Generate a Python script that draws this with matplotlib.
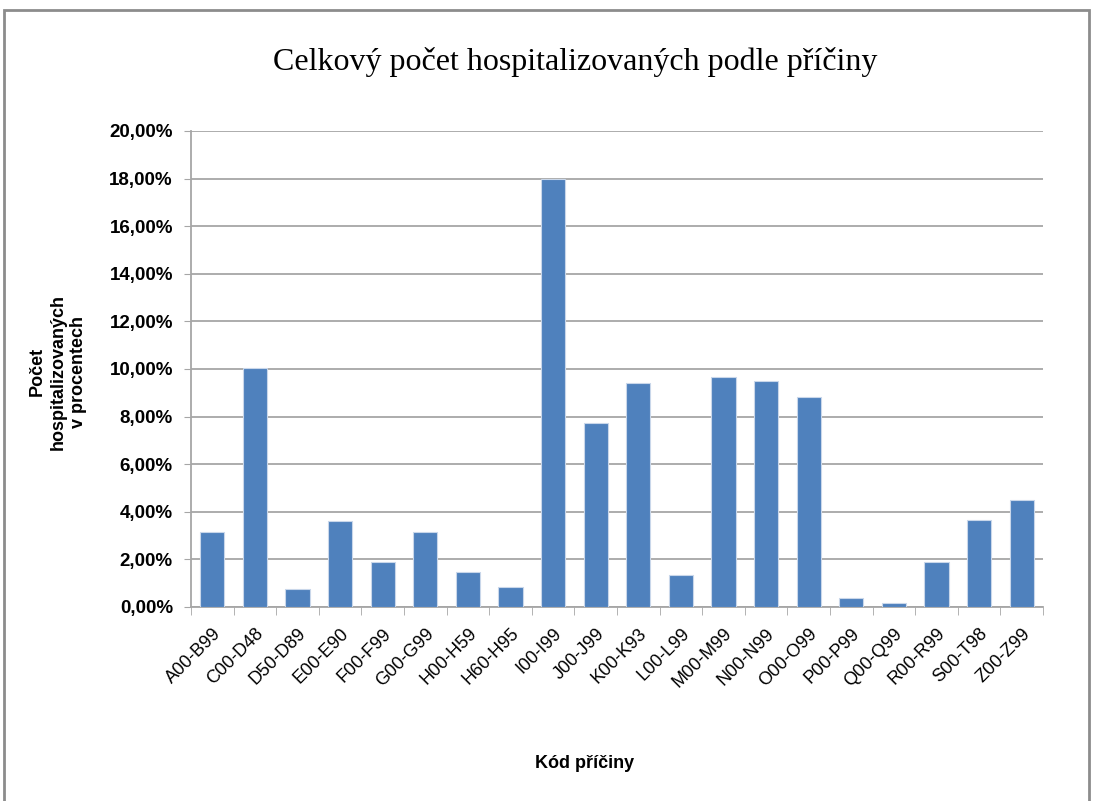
import matplotlib.pyplot as plt
from matplotlib.patches import Rectangle
from matplotlib.ticker import FuncFormatter, MultipleLocator

# Podíl hospitalizovaných podle skupin diagnóz (v procentech)
kody = ['A00-B99', 'C00-D48', 'D50-D89', 'E00-E90', 'F00-F99', 'G00-G99',
        'H00-H59', 'H60-H95', 'I00-I99', 'J00-J99', 'K00-K93', 'L00-L99',
        'M00-M99', 'N00-N99', 'O00-O99', 'P00-P99', 'Q00-Q99', 'R00-R99',
        'S00-T98', 'Z00-Z99']
podil = [3.16, 10.03, 0.74, 3.60, 1.87, 3.16,
         1.49, 0.84, 18.00, 7.75, 9.43, 1.36,
         9.68, 9.49, 8.83, 0.38, 0.16, 1.89,
         3.67, 4.48]

plt.rcParams['font.family'] = ['Liberation Sans', 'DejaVu Sans']

fig = plt.figure(figsize=(10.94, 8.01), dpi=100)
ax = fig.add_axes([0.1746, 0.2422, 0.7788, 0.5943])

x = range(len(kody))
ax.bar(x, podil, width=0.57, color='#4f81bd', edgecolor='#c9d7ea', linewidth=0.8, zorder=3)

ax.set_xlim(-0.5, len(kody) - 0.5)
ax.set_ylim(0, 20)
ax.yaxis.set_major_locator(MultipleLocator(2))
ax.yaxis.set_major_formatter(FuncFormatter(lambda v, p: f'{v:.2f}'.replace('.', ',') + '%'))
ax.grid(axis='y', color='#a6a6a6', linewidth=1.3, zorder=0)

# popisky kategorií, dělicí značky mezi sloupci
ax.set_xticks(list(x))
ax.set_xticklabels(kody, rotation=45, ha='right', rotation_mode='anchor', fontsize=13)
ax.set_xticks([i - 0.5 for i in range(len(kody) + 1)], minor=True)
ax.tick_params(axis='x', which='major', length=0, pad=13)
ax.tick_params(axis='x', which='minor', length=6, color='#a6a6a6', direction='out')
ax.tick_params(axis='y', length=5, color='#a6a6a6', labelsize=13.5, pad=8)
for lab in ax.get_yticklabels():
    lab.set_fontweight('bold')

for s in ['top', 'right']:
    ax.spines[s].set_visible(False)
ax.spines['left'].set_color('#a6a6a6')
ax.spines['bottom'].set_color('#a6a6a6')
ax.spines['left'].set_linewidth(1.3)
ax.spines['bottom'].set_linewidth(1.3)

fig.text(0.5256, 0.9226, 'Celkový počet hospitalizovaných podle příčiny',
         ha='center', va='center', fontsize=23, family=['Liberation Serif', 'DejaVu Serif'])
fig.text(0.053, 0.536, 'Počet\nhospitalizovaných\nv procentech', rotation=90,
         ha='center', va='center', fontsize=13, fontweight='bold', linespacing=1.25)
fig.text(0.534, 0.0474, 'Kód příčiny', ha='center', va='center', fontsize=13, fontweight='bold')

# rámeček kolem celého grafu
fig.patches.append(Rectangle((0.004, -0.01), 0.991, 0.998, transform=fig.transFigure,
                             fill=False, edgecolor='#8c8c8c', linewidth=2))

fig.savefig('out.png', dpi=100)
